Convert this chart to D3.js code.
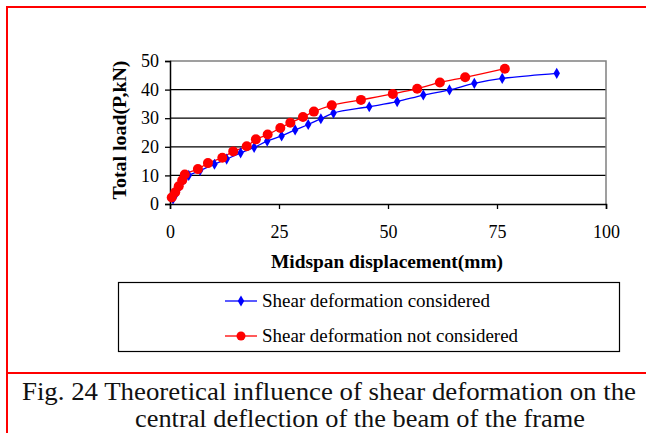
<!DOCTYPE html>
<html>
<head>
<meta charset="utf-8">
<script src="https://cdn.jsdelivr.net/npm/d3@7"></script>
<style>
  body { margin: 0; background: #fff; }
  svg text { font-family: "Liberation Serif", Tinos, "Times New Roman", "DejaVu Serif", serif; }
</style>
</head>
<body>
<div id="chart"></div>
<script>
const width = 646, height = 433;
const margin = ({ top: 61, right: 40, bottom: 229, left: 170 });

// displacement (mm) / load (kN)
const shearOnX = [0.7, 1.4, 2.1, 2.8, 3.4, 4.3, 6.9, 10.2, 13.0, 16.2, 19.3, 22.3, 25.6, 28.7, 31.7, 34.6, 37.5, 45.7, 52.1, 58.1, 64.1, 69.8, 76.2, 88.7];
const shearOnY = [1.8, 3.6, 5.8, 7.8, 8.8, 10.0, 11.7, 13.9, 15.7, 17.9, 19.8, 22.0, 23.8, 25.9, 27.8, 29.8, 31.8, 34.0, 35.8, 38.1, 39.9, 42.2, 43.9, 45.7];
const shearOffX = [0.4, 1.2, 2.0, 2.8, 3.4, 6.4, 8.7, 12.0, 14.5, 17.6, 19.7, 22.4, 25.3, 27.6, 30.5, 33.0, 37.1, 43.8, 51.1, 56.7, 61.9, 67.7, 76.8];
const shearOffY = [2.3, 4.1, 6.2, 8.3, 10.3, 12.2, 14.3, 16.2, 18.4, 20.2, 22.6, 24.3, 26.6, 28.4, 30.4, 32.3, 34.5, 36.4, 38.5, 40.3, 42.5, 44.3, 47.3];
const xTicks = [0, 25, 50, 75, 100];
const yTicks = [0, 10, 20, 30, 40, 50];
const seriesNames = ["Shear deformation considered", "Shear deformation not considered"];
const captionLines = ["Fig. 24 Theoretical influence of shear deformation on the", "central deflection of the beam of the frame"];

const serif = "'Liberation Serif', Tinos, 'Times New Roman', 'DejaVu Serif', serif";

const svg = d3.select("#chart")
    .append("svg")
    .attr("width", width)
    .attr("height", height)
    .style("font-family", serif);

// red frame
svg.append("path")
    .attr("d", `M7,433 V7 H646`)
    .attr("fill", "none")
    .attr("stroke", "#ff0000")
    .attr("stroke-width", 2);
svg.append("line")
    .attr("x1", 7).attr("x2", 646).attr("y1", 373).attr("y2", 373)
    .attr("stroke", "#ff0000").attr("stroke-width", 2);

let x = d3.scaleLinear().domain([0, 100]).range([margin.left, width - margin.right]);
let y = d3.scaleLinear().domain([0, 50]).range([height - margin.bottom, margin.top]);

// gridlines
svg.selectAll(".grid")
    .data(yTicks.slice(1, -1))
    .enter()
    .append("line")
    .attr("x1", x(0)).attr("x2", x(100))
    .attr("y1", d => y(d)).attr("y2", d => y(d))
    .attr("stroke", "#000").attr("stroke-width", 1.3);

// plot border (top / right grey)
svg.append("path")
    .attr("d", `M${x(0)},${y(50)} H${x(100)} V${y(0)}`)
    .attr("fill", "none")
    .attr("stroke", "#808080")
    .attr("stroke-width", 1.5);

const xAxis = svg.append("g")
    .attr("transform", `translate(0,${y(0)})`)
    .call(d3.axisBottom(x).tickValues(xTicks).tickSize(5).tickPadding(16));
const yAxis = svg.append("g")
    .attr("transform", `translate(${x(0)},0)`)
    .call(d3.axisLeft(y).tickValues(yTicks).tickSize(5).tickPadding(6));

for (let ax of [xAxis, yAxis]) {
    ax.attr("font-family", serif).attr("font-size", 18);
    ax.select(".domain").attr("stroke", "#000").attr("stroke-width", 1.5);
    ax.selectAll(".tick line").attr("stroke", "#000").attr("stroke-width", 1.3);
    ax.selectAll(".tick text").attr("fill", "#000");
}

svg.append("text")
    .attr("x", 387)
    .attr("y", 268)
    .attr("text-anchor", "middle")
    .attr("font-size", 19)
    .attr("font-weight", "bold")
    .attr("textLength", 232)
    .attr("lengthAdjust", "spacingAndGlyphs")
    .text("Midspan displacement(mm)");

svg.append("text")
    .attr("transform", `translate(126,130) rotate(-90)`)
    .attr("text-anchor", "middle")
    .attr("font-size", 19)
    .attr("font-weight", "bold")
    .attr("textLength", 139)
    .attr("lengthAdjust", "spacingAndGlyphs")
    .text("Total load(P,kN)");

const line = d3.line()
    .x(d => x(d[0]))
    .y(d => y(d[1]))
    .curve(d3.curveCatmullRom.alpha(0.5));

const blueData = shearOnX.map((v, i) => [v, shearOnY[i]]);
const redData = shearOffX.map((v, i) => [v, shearOffY[i]]);

svg.append("path")
    .datum(blueData)
    .attr("d", line)
    .attr("fill", "none")
    .attr("stroke", "#0000ff")
    .attr("stroke-width", 1.3);

svg.append("path")
    .datum(redData)
    .attr("d", line)
    .attr("fill", "none")
    .attr("stroke", "#ff0000")
    .attr("stroke-width", 1.3);

const diamond = d3.symbol().type(d3.symbolDiamond).size(36);

svg.selectAll(".blue")
    .data(blueData)
    .enter()
    .append("path")
    .attr("d", diamond)
    .attr("transform", d => `translate(${x(d[0])},${y(d[1])})`)
    .attr("fill", "#0000ff");

svg.selectAll(".red")
    .data(redData)
    .enter()
    .append("circle")
    .attr("cx", d => x(d[0]))
    .attr("cy", d => y(d[1]))
    .attr("r", 5)
    .attr("fill", "#ff0000");

// legend
svg.append("rect")
    .attr("x", 118.5).attr("y", 282.5)
    .attr("width", 501).attr("height", 69)
    .attr("fill", "#fff")
    .attr("stroke", "#000")
    .attr("stroke-width", 1.2);

const legend = svg.selectAll(".legend")
    .data(seriesNames)
    .enter()
    .append("g")
    .attr("transform", (d, i) => `translate(0,${301 + i * 35})`);

legend.append("line")
    .attr("x1", 225).attr("x2", 257).attr("y1", 0).attr("y2", 0)
    .attr("stroke", (d, i) => i == 0 ? "#0000ff" : "#ff0000")
    .attr("stroke-width", 1.3);

legend.each(function(d, i) {
    let g = d3.select(this);
    if (i == 0) {
        g.append("path").attr("d", diamond).attr("transform", "translate(241,0)").attr("fill", "#0000ff");
    } else {
        g.append("circle").attr("cx", 241).attr("cy", 0).attr("r", 4.5).attr("fill", "#ff0000");
    }
});

legend.append("text")
    .attr("x", 262)
    .attr("y", 6)
    .attr("font-size", 19)
    .attr("textLength", (d, i) => i == 0 ? 228 : 256)
    .attr("lengthAdjust", "spacingAndGlyphs")
    .text(d => d);

// caption
svg.selectAll(".caption")
    .data(captionLines)
    .enter()
    .append("text")
    .attr("x", (d, i) => i == 0 ? 22 : 135)
    .attr("y", (d, i) => 400 + i * 27)
    .attr("font-size", 25)
    .attr("fill", "#111")
    .attr("textLength", (d, i) => i == 0 ? 614 : 450)
    .attr("lengthAdjust", "spacingAndGlyphs")
    .text(d => d);

</script>
</body>
</html>
